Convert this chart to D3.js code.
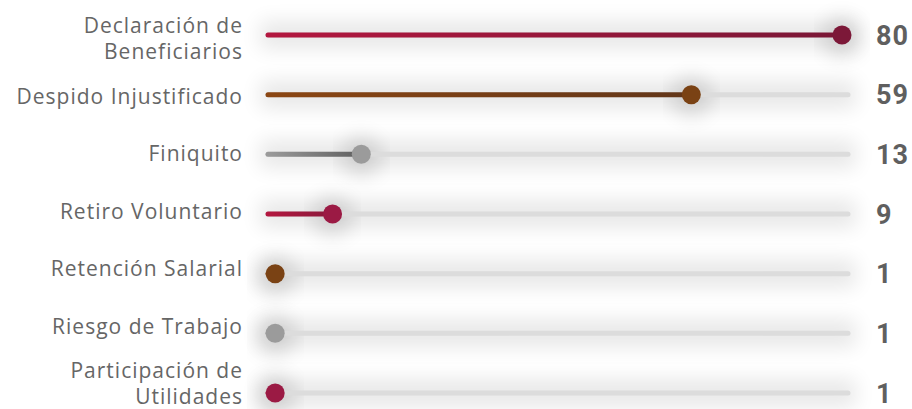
<!DOCTYPE html>
<html>
<head>
<meta charset="utf-8">
<script src="https://cdn.jsdelivr.net/npm/d3@7"></script>
<style>
  html, body { margin: 0; padding: 0; background: #fff; }
  svg { display: block; }
</style>
</head>
<body>
<div id="chart"></div>
<script>
// data
const categories = [
  'Declaración de Beneficiarios',
  'Despido Injustificado',
  'Finiquito',
  'Retiro Voluntario',
  'Retención Salarial',
  'Riesgo de Trabajo',
  'Participación de Utilidades'
];
const labelLines = [
  ['Declaración de', 'Beneficiarios'],
  ['Despido Injustificado'],
  ['Finiquito'],
  ['Retiro Voluntario'],
  ['Retención Salarial'],
  ['Riesgo de Trabajo'],
  ['Participación de', 'Utilidades']
];
const values = [80, 59, 13, 9, 1, 1, 1];
const palette = [
  { from: '#b3173f', to: '#7a1736', dot: '#7c1838' },
  { from: '#8b4613', to: '#623619', dot: '#7a4214' },
  { from: '#9a9a9a', to: '#5f5f5f', dot: '#9b9b9b' },
  { from: '#b3173f', to: '#8a1a3c', dot: '#9b1a44' }
];
const colorOrder = [0, 1, 2, 3, 1, 2, 3];

const width = 912, height = 409;

const svg = d3.select('#chart').append('svg')
    .attr('width', width)
    .attr('height', height);

const defs = svg.append('defs');
defs.append('filter')
    .attr('id', 'soft')
    .attr('x', '-20%').attr('y', '-200%')
    .attr('width', '140%').attr('height', '500%')
  .append('feGaussianBlur')
    .attr('stdDeviation', 10);

const x = d3.scaleLinear().domain([0, 80]).range([268, 842]);
const y = d3.scalePoint().domain(categories).range([35, 393]);
const yLabel = d3.scalePoint().domain(categories).range([39, 384]);
const trackEnd = 848;

const rows = svg.selectAll('g.row')
  .data(categories.map((c, i) => ({ name: c, lines: labelLines[i], value: values[i], col: palette[colorOrder[i]], i })))
  .enter().append('g')
    .attr('class', 'row');

// soft shadow behind track
rows.append('rect')
    .attr('x', x(0) - 8)
    .attr('y', (d) => y(d.name) - 14)
    .attr('width', trackEnd - x(0) + 16)
    .attr('height', 28)
    .attr('fill', '#000')
    .attr('opacity', 0.09)
    .attr('filter', 'url(#soft)');

rows.append('circle')
    .attr('cx', (d) => x(d.value))
    .attr('cy', (d) => y(d.name) + 2)
    .attr('r', 20)
    .attr('fill', '#000')
    .attr('opacity', 0.12)
    .attr('filter', 'url(#soft)');

// gradients
rows.each(function(d) {
  const g = defs.append('linearGradient')
      .attr('id', `grad${d.i}`)
      .attr('gradientUnits', 'userSpaceOnUse')
      .attr('x1', x(0)).attr('x2', Math.max(x(d.value), x(0) + 1))
      .attr('y1', 0).attr('y2', 0);
  g.append('stop').attr('offset', '0%').attr('stop-color', d.col.from);
  g.append('stop').attr('offset', '100%').attr('stop-color', d.col.to);
});

rows.append('line')
    .attr('x1', x(0))
    .attr('x2', trackEnd)
    .attr('y1', (d) => y(d.name))
    .attr('y2', (d) => y(d.name))
    .attr('stroke', '#dcdcdc')
    .attr('stroke-width', 5)
    .attr('stroke-linecap', 'round');

rows.append('line')
    .attr('x1', x(0))
    .attr('x2', (d) => x(d.value))
    .attr('y1', (d) => y(d.name))
    .attr('y2', (d) => y(d.name))
    .attr('stroke', (d) => `url(#grad${d.i})`)
    .attr('stroke-width', 5)
    .attr('stroke-linecap', 'round');

rows.append('circle')
    .attr('cx', (d) => x(d.value))
    .attr('cy', (d) => y(d.name))
    .attr('r', 9.5)
    .attr('fill', (d) => d.col.dot);

// category labels
const lab = rows.append('text')
    .attr('text-anchor', 'end')
    .attr('font-family', '"Open Sans", sans-serif')
    .attr('font-size', 21)
    .attr('letter-spacing', 1)
    .attr('fill', '#666');
lab.each(function(d) {
  const n = d.lines.length;
  d3.select(this).selectAll('tspan')
    .data(d.lines)
    .enter().append('tspan')
      .attr('x', 243)
      .attr('y', (t, k) => yLabel(d.name) + (k - (n - 1) / 2) * 26)
      .attr('dy', '0.35em')
      .text((t) => t);
});

// value labels
rows.append('text')
    .attr('x', 876)
    .attr('y', (d) => y(d.name))
    .attr('dy', '0.36em')
    .attr('font-family', 'Roboto, sans-serif')
    .attr('font-weight', 700)
    .attr('font-size', 27)
    .attr('letter-spacing', 1)
    .attr('fill', '#5f5f5f')
    .text((d) => d.value);
</script>
</body>
</html>
